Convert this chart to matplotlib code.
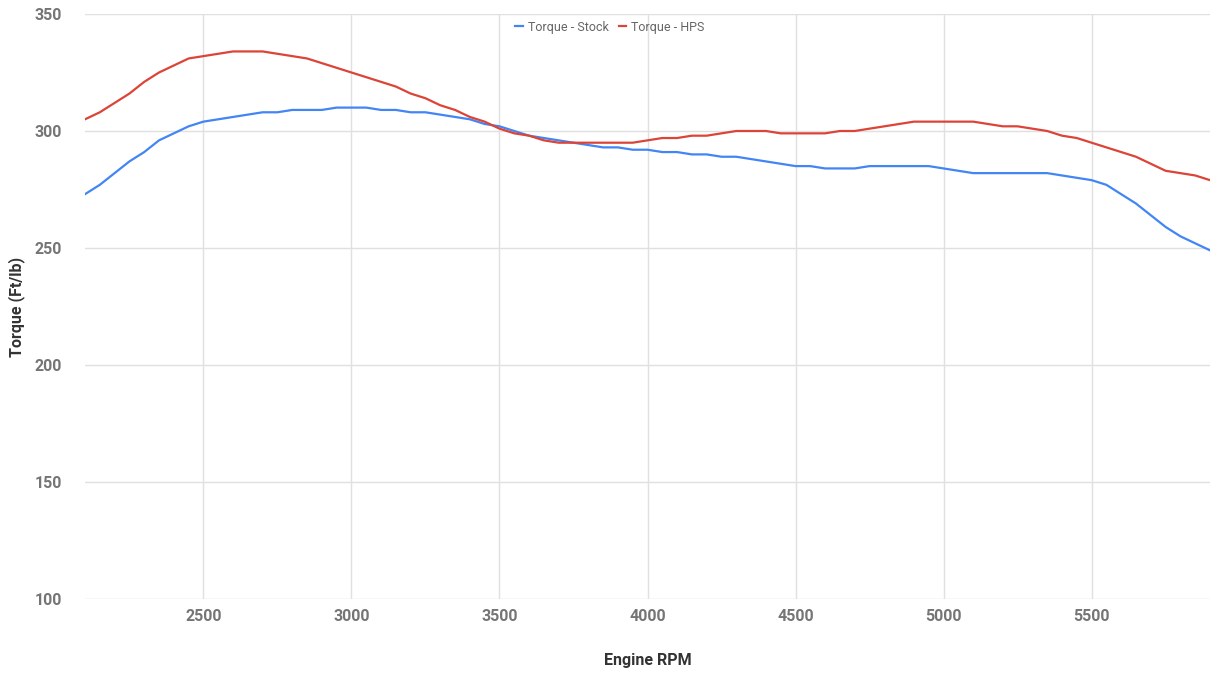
import matplotlib.pyplot as plt

# engine speed, 50 rpm steps
rpm = list(range(2100, 5901, 50))

torque_stock = [273, 277, 282, 287, 291, 296, 299, 302, 304, 305,
                306, 307, 308, 308, 309, 309, 309, 310, 310, 310,
                309, 309, 308, 308, 307, 306, 305, 303, 302, 300,
                298, 297, 296, 295, 294, 293, 293, 292, 292, 291,
                291, 290, 290, 289, 289, 288, 287, 286, 285, 285,
                284, 284, 284, 285, 285, 285, 285, 285, 284, 283,
                282, 282, 282, 282, 282, 282, 281, 280, 279, 277,
                273, 269, 264, 259, 255, 252, 249]

torque_hps = [305, 308, 312, 316, 321, 325, 328, 331, 332, 333,
              334, 334, 334, 333, 332, 331, 329, 327, 325, 323,
              321, 319, 316, 314, 311, 309, 306, 304, 301, 299,
              298, 296, 295, 295, 295, 295, 295, 295, 296, 297,
              297, 298, 298, 299, 300, 300, 300, 299, 299, 299,
              299, 300, 300, 301, 302, 303, 304, 304, 304, 304,
              304, 303, 302, 302, 301, 300, 298, 297, 295, 293,
              291, 289, 286, 283, 282, 281, 279]

x_ticks = [2500, 3000, 3500, 4000, 4500, 5000, 5500]
y_ticks = [100, 150, 200, 250, 300, 350]

plt.rcParams['font.family'] = ['Roboto', 'DejaVu Sans']

fig = plt.figure(figsize=(12.1, 6.73), dpi=100)
ax = fig.add_axes([85 / 1210, 1 - 599 / 673, 1 - 85 / 1210, (599 - 14) / 673])

ax.plot(rpm, torque_stock, color='#4285F4', lw=1.6, label='Torque - Stock')
ax.plot(rpm, torque_hps, color='#DB4437', lw=1.6, label='Torque - HPS')

ax.set_xlim(2100, 5900)
ax.set_ylim(100, 350)
ax.set_xticks(x_ticks)
ax.set_yticks(y_ticks)
ax.grid(True, color='#e0e0e0', lw=1)
ax.set_axisbelow(True)
for s in ax.spines.values():
    s.set_visible(False)
ax.tick_params(length=0, labelsize=11.5, labelcolor='#757575')
ax.tick_params(axis='y', pad=16.5)
ax.tick_params(axis='x', pad=7)
for lbl in ax.get_xticklabels() + ax.get_yticklabels():
    lbl.set_fontweight('bold')

ax.set_xlabel('Engine RPM', fontsize=11.5, fontweight='bold', color='#333333', labelpad=21)
ax.set_ylabel('Torque (Ft/lb)', fontsize=11.5, fontweight='bold', color='#333333', labelpad=7)

fig.legend(loc='center', bbox_to_anchor=(610 / 1210, 1 - 27 / 673), ncol=2, frameon=False,
           fontsize=9, labelcolor='#666666', handlelength=0.6, handletextpad=0.4,
           columnspacing=0.8)

fig.savefig('out.png', dpi=100, facecolor='white')
